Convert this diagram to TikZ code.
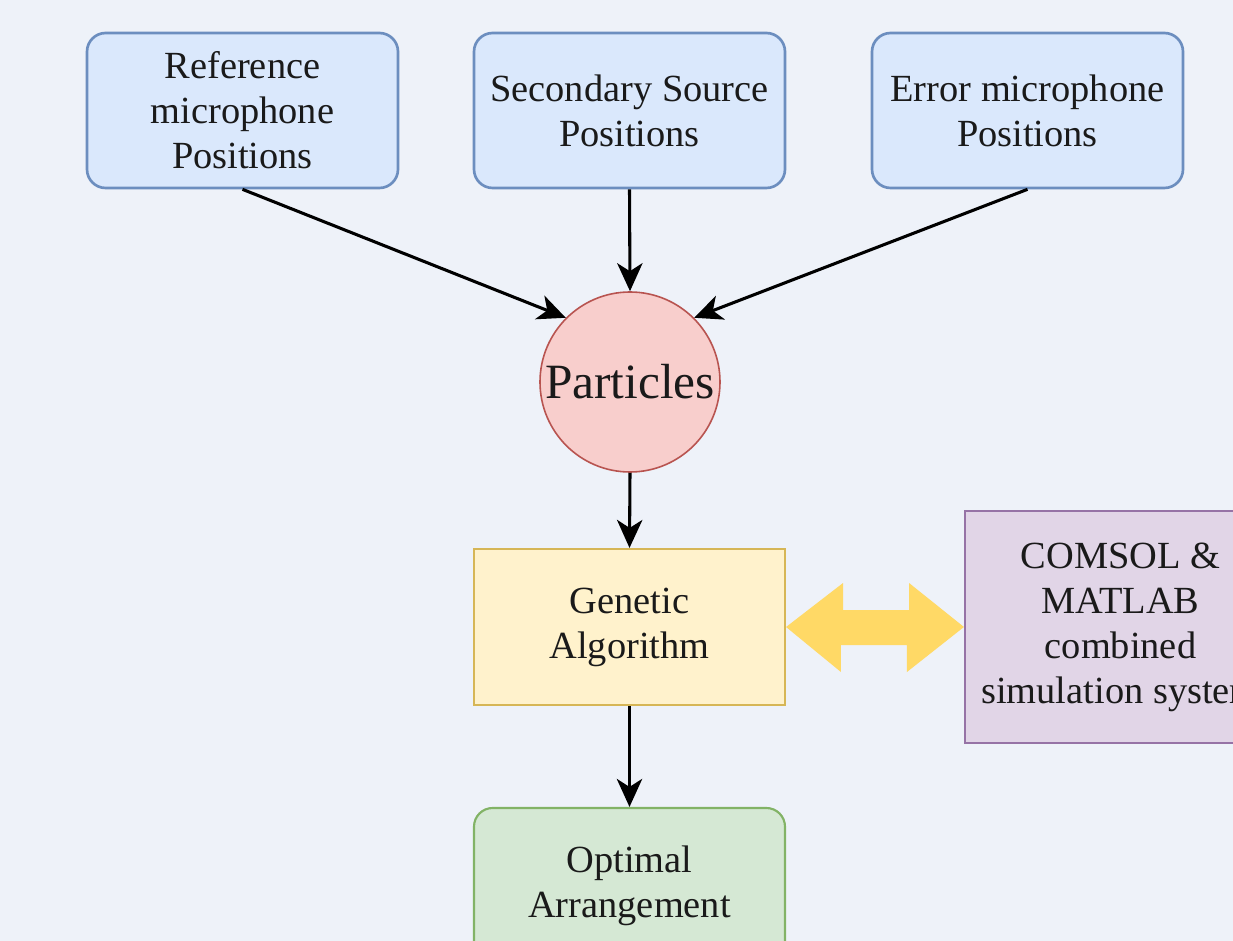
\documentclass[tikz,border=0pt]{standalone}
\usepackage{fontspec}
\setmainfont{Liberation Serif}
\usetikzlibrary{arrows.meta,calc}
\definecolor{bg}{HTML}{EEF2F9}
\definecolor{bluefill}{HTML}{DAE8FC}
\definecolor{bluedraw}{HTML}{6C8EBF}
\definecolor{redfill}{HTML}{F8CECC}
\definecolor{reddraw}{HTML}{B85450}
\definecolor{yellowfill}{HTML}{FFF2CC}
\definecolor{yellowdraw}{HTML}{D6B656}
\definecolor{purplefill}{HTML}{E1D5E7}
\definecolor{purpledraw}{HTML}{9673A6}
\definecolor{greenfill}{HTML}{D5E8D4}
\definecolor{greendraw}{HTML}{82B366}
\definecolor{arrowyellow}{HTML}{FFD966}
\definecolor{txt}{HTML}{1A1A1A}
\tikzset{
  basebox/.style={align=center, text=txt, line width=1.6pt,
    minimum width=233.25pt, minimum height=116.25pt, inner sep=0pt,
    font=\fontsize{28.8}{33.75}\selectfont},
  bluebox/.style={basebox, rounded corners=14pt, draw=bluedraw, fill=bluefill, line width=2pt},
  yellowbox/.style={basebox, draw=yellowdraw, fill=yellowfill, minimum height=117pt},
  purplebox/.style={basebox, draw=purpledraw, fill=purplefill, minimum height=174pt},
  greenbox/.style={basebox, rounded corners=14pt, draw=greendraw, fill=greenfill, minimum height=117pt},
  partcircle/.style={circle, draw=reddraw, fill=redfill, line width=1.2pt,
    minimum size=135pt, inner sep=0pt, text=txt, font=\fontsize{37}{42}\selectfont},
  conn/.style={line width=2.3pt, -{Stealth[length=21pt,width=19pt,inset=6pt]}},
  dblarrow/.style={fill=arrowyellow, draw=none}
}
\begin{document}
\begin{tikzpicture}[x=0.75pt,y=-0.75pt]
\useasboundingbox (0,0) rectangle (1233,941);
\clip (0,0) rectangle (1233,941);
\fill[bg] (0,0) rectangle (1233,941);

\node[bluebox] (ref) at (242.5,110.5) {Reference\\microphone\\Positions};
\node[bluebox] (sec) at (629.5,110.5) {Secondary Source\\Positions};
\node[bluebox] (err) at (1027.5,110.5) {Error microphone\\Positions};
\node[partcircle] (part) at (630,382) {Particles};
\node[yellowbox] (gen) at (629.5,627) {Genetic\\Algorithm};
\node[purplebox] (sim) at (1120.5,627) {COMSOL \&\\MATLAB\\combined\\simulation system};
\node[greenbox] (opt) at (629.5,886) {Optimal\\Arrangement};

\draw[conn] (ref.south) -- (part.135);
\draw[conn] (sec.south) -- (part.north);
\draw[conn] (err.south) -- (part.45);
\draw[conn] (part.south) -- (gen.north);
\draw[conn] (gen.south) -- (opt.north);

\fill[dblarrow] (gen.east) -- ++(57,-44) -- ++(0,27) -- ++(66,0) -- ++(0,-27)
  -- (sim.west) -- ++(-57,45) -- ++(0,-27) -- ++(-66,0) -- ++(0,27) -- cycle;
\end{tikzpicture}
\end{document}
